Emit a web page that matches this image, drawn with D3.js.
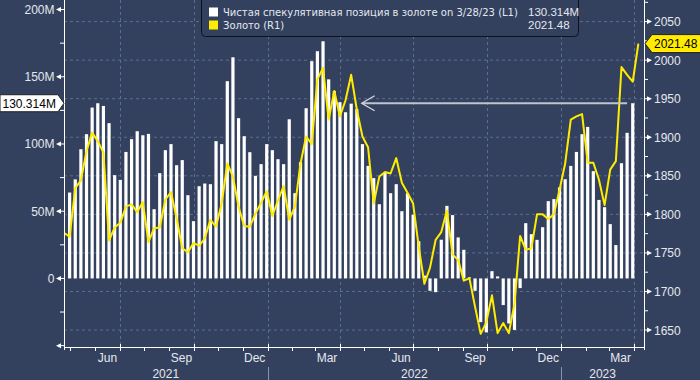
<!DOCTYPE html>
<html><head><meta charset="utf-8">
<script src="https://cdn.jsdelivr.net/npm/d3@7"></script>
<style>
html,body{margin:0;padding:0;background:#33415e;}
svg{display:block;}
text{font-family:"Liberation Sans",Arial,sans-serif;}
</style></head><body>
<svg id="chart" width="700" height="380"></svg>
<script>
// ---------- data ----------
const firstGoldWeek = "2021-04-23";   // weekly (Friday) points
const lastGoldWeek  = "2023-04-07";
// Net speculative position in gold, millions (L1), weekly Apr 30 2021 .. Mar 31 2023
const positionM = [63.9, 73.7, 96.1, 107.3, 127.1, 130.3, 128.3, 115.5, 76.8, 73.3,
  94.1, 103.6, 109.5, 106.5, 107.5, 51.5, 78.3, 95.4, 99.9, 84.2,
  88.0, 61.9, 42.6, 68.6, 70.6, 70.1, 102.1, 99.9, 146.7, 164.5,
  119.2, 105.8, 93.9, 76.3, 85.0, 99.9, 95.4, 88.7, 85.0, 118.4,
  63.4, 86.5, 126.6, 161.6, 169.0, 176.4, 148.1, 139.3, 131.1, 123.6,
  130.0, 125.9, 99.9, 83.7, 74.6, 55.2, 78.8, 63.4, 70.1, 50.0,
  63.4, 47.4, 27.7, 2.1, -9.2, -10.2, 28.8, 54.0, 47.1, 30.5,
  21.3, 0.8, -9.2, -32.5, -40.1, 5.4, 1.5, -19.8, -33.5, -38.3,
  -7.2, 41.1, 32.9, 28.7, 38.1, 57.5, 59.0, 67.7, 73.8, 83.7,
  94.1, 107.3, 112.7, 79.8, 58.4, 53.0, 40.4, 24.8, 85.7, 108.3, 130.314];
// Gold price (R1), weekly Apr 23 2021 .. Apr 7 2023
const goldPrice = [1776, 1771, 1834, 1844, 1882, 1906, 1895, 1880, 1766, 1783,
  1789, 1810, 1813, 1803, 1816, 1764, 1782, 1783, 1819, 1829,
  1795, 1756, 1751, 1763, 1759, 1769, 1793, 1784, 1814, 1866,
  1849, 1810, 1785, 1784, 1801, 1815, 1830, 1798, 1818, 1837,
  1793, 1810, 1866, 1901, 1891, 1975, 1990, 1923, 1960, 1927,
  1948, 1981, 1936, 1901, 1887, 1814, 1849, 1855, 1853, 1873,
  1841, 1828, 1814, 1758, 1710, 1731, 1767, 1777, 1805, 1748,
  1741, 1714, 1717, 1680, 1645, 1660, 1695, 1646, 1659, 1646,
  1684, 1772, 1754, 1756, 1800, 1800, 1794, 1800, 1832, 1866,
  1923, 1927, 1930, 1867, 1867, 1845, 1812, 1858, 1869, 1991,
  1981, 1972, 2021.48];
const leftTicksM = [-50, 0, 50, 100, 150, 200];
const leftMinorM = [-25, 25, 75, 125, 175];
const rightTicks = [1650, 1700, 1750, 1800, 1850, 1900, 1950, 2000, 2050];
const rightMinor = [1675, 1725, 1775, 1825, 1875, 1925, 1975, 2025, 2075];
const monthNames = ["Jan","Feb","Mar","Apr","May","Jun","Jul","Aug","Sep","Oct","Nov","Dec"];
const labelledMonths = [2, 5, 8, 11];
const years = ["2021", "2022", "2023"];
const legendNames = ["Чистая спекулятивная позиция в золоте on 3/28/23 (L1)", "Золото (R1)"];
const legendValues = ["130.314M", "2021.48"];
const arrowFrom = "2022-04-28", arrowTo = "2023-03-24";

// ---------- layout ----------
const W = 700, H = 380;
const L = 64, R = 644, T = 0, B = 347;
const bg = "#33415e", grid = "#5b6e90", txt = "#e4e8ef", gold = "#ffec00";
const parse = d3.utcParse("%Y-%m-%d");

const goldDates = d3.utcFriday.range(parse(firstGoldWeek), d3.utcDay.offset(parse(lastGoldWeek), 1));
const barDates = goldDates.slice(1, 1 + positionM.length);

const x = d3.scaleUtc().domain([parse(firstGoldWeek), parse("2023-04-14")]).range([L, R]);
const yL = d3.scaleLinear().domain([-51, 207.1]).range([B, T]);
const yR = d3.scaleLinear().domain([1628, 2078]).range([B, T]);

const svg = d3.select("#chart");
svg.append("rect").attr("width", W).attr("height", H).attr("fill", bg);
svg.append("defs").append("clipPath").attr("id", "plot")
  .append("rect").attr("x", L).attr("y", T).attr("width", R - L).attr("height", B - T);

// grid
const quarters = d3.utcMonth.every(3).range(x.domain()[0], x.domain()[1]);
svg.append("g").selectAll("line").data(rightTicks).join("line")
  .attr("x1", L).attr("x2", R).attr("y1", d => yR(d)).attr("y2", d => yR(d))
  .attr("stroke", grid).attr("stroke-width", 1).attr("stroke-dasharray", "3,3");
svg.append("g").selectAll("line").data(quarters).join("line")
  .attr("x1", d => Math.round(x(d)) + 0.5).attr("x2", d => Math.round(x(d)) + 0.5)
  .attr("y1", T).attr("y2", B)
  .attr("stroke", grid).attr("stroke-width", 1).attr("stroke-dasharray", "3,3");

// bars
const bw = 3.2;
svg.append("g").attr("clip-path", "url(#plot)").selectAll("rect").data(positionM).join("rect")
  .attr("x", (d, i) => x(barDates[i]) - bw / 2)
  .attr("width", bw)
  .attr("y", d => Math.min(yL(d), yL(0)))
  .attr("height", d => Math.abs(yL(d) - yL(0)))
  .attr("fill", "#ffffff");

// gold line
svg.append("path").attr("clip-path", "url(#plot)")
  .datum(goldPrice)
  .attr("d", d3.line().x((d, i) => x(goldDates[i])).y(d => yR(d)))
  .attr("fill", "none").attr("stroke", gold).attr("stroke-width", 2).attr("stroke-linejoin", "round");

// arrow annotation at last position value
const ay = yL(positionM[positionM.length - 1]);
const ax0 = x(parse(arrowFrom)), ax1 = x(parse(arrowTo));
svg.append("line").attr("x1", ax0 + 1).attr("x2", ax1).attr("y1", ay).attr("y2", ay)
  .attr("stroke", "#bfc5cf").attr("stroke-width", 1.8);
svg.append("path").attr("d", `M${ax0 + 13},${ay - 7.5}L${ax0},${ay}L${ax0 + 13},${ay + 7.5}`)
  .attr("fill", "none").attr("stroke", "#d6dae1").attr("stroke-width", 1.2);

// frame
svg.append("line").attr("x1", L + 0.5).attr("x2", L + 0.5).attr("y1", T).attr("y2", B + 3).attr("stroke", "#fff").attr("stroke-width", 1);
svg.append("line").attr("x1", R + 0.5).attr("x2", R + 0.5).attr("y1", T).attr("y2", B + 3).attr("stroke", "#fff").attr("stroke-width", 1);
svg.append("line").attr("x1", L).attr("x2", R + 1).attr("y1", B + 0.5).attr("y2", B + 0.5).attr("stroke", "#fff").attr("stroke-width", 1);

// left axis
const gl = svg.append("g");
leftTicksM.forEach(v => {
  const yy = yL(v);
  gl.append("path").attr("d", `M${L - 8},${yy}L${L - 3},${yy - 2.5}L${L - 3},${yy + 2.5}Z`).attr("fill", "#fff");
  gl.append("line").attr("x1", L - 3).attr("x2", L).attr("y1", yy).attr("y2", yy).attr("stroke", "#fff");
  if (v > -50) gl.append("text").attr("x", L - 9.5).attr("y", yy + 4.5).attr("text-anchor", "end")
    .attr("fill", txt).attr("font-size", 12).text(v === 0 ? "0" : v + "M");
});
leftMinorM.forEach(v => {
  gl.append("line").attr("x1", L - 4).attr("x2", L).attr("y1", yL(v)).attr("y2", yL(v)).attr("stroke", "#fff");
});

// right axis
const gr = svg.append("g");
rightTicks.forEach(v => {
  const yy = yR(v);
  gr.append("line").attr("x1", R).attr("x2", R + 3).attr("y1", yy).attr("y2", yy).attr("stroke", "#fff");
  gr.append("path").attr("d", `M${R + 3},${yy - 2.5}L${R + 8},${yy}L${R + 3},${yy + 2.5}Z`).attr("fill", "#fff");
  gr.append("text").attr("x", R + 10).attr("y", yy + 4.5).attr("fill", txt).attr("font-size", 12).text(v);
});
rightMinor.forEach(v => {
  gr.append("line").attr("x1", R).attr("x2", R + 4).attr("y1", yR(v)).attr("y2", yR(v)).attr("stroke", "#fff");
});

// bottom axis
const gb = svg.append("g");
const months = d3.utcMonth.range(x.domain()[0], x.domain()[1]);
months.forEach(m => {
  const xx = Math.round(x(m)) + 0.5;
  const q = m.getUTCMonth() % 3 === 0;
  gb.append("line").attr("x1", xx).attr("x2", xx).attr("y1", q ? B - 3 : B).attr("y2", B + 4).attr("stroke", "#fff");
  const mm = m.getUTCMonth();
  if (labelledMonths.includes(mm)) {
    gb.append("text").attr("x", x(d3.utcDay.offset(m, 15))).attr("y", 361.5).attr("text-anchor", "middle")
      .attr("fill", txt).attr("font-size", 12).text(monthNames[mm]);
  }
});
const yearStarts = d3.utcYear.range(x.domain()[0], x.domain()[1]);
const yearEdges = [L, ...yearStarts.map(d => x(d)), R];
years.forEach((yv, i) => {
  gb.append("text").attr("x", (yearEdges[i] + yearEdges[i + 1]) / 2).attr("y", 378)
    .attr("text-anchor", "middle").attr("fill", txt).attr("font-size", 12).text(yv);
});
yearStarts.forEach(d => {
  const xx = Math.round(x(d)) + 0.5;
  gb.append("line").attr("x1", xx).attr("x2", xx).attr("y1", 367).attr("y2", H).attr("stroke", "#8c95a8");
});

// legend
const lg = svg.append("g");
lg.append("rect").attr("x", 201.5).attr("y", -5).attr("width", 377).attr("height", 41.5).attr("rx", 4)
  .attr("fill", bg).attr("stroke", "#10131c").attr("stroke-width", 1);
const legendColors = ["#ffffff", gold];
legendNames.forEach((n, i) => {
  const by = 7.5 + i * 13;
  lg.append("rect").attr("x", 209).attr("y", by).attr("width", 9).attr("height", 9).attr("fill", legendColors[i]);
  lg.append("text").attr("x", 223).attr("y", by + 8.5).attr("fill", txt).attr("font-size", 10)
    .style("font-family", "'DejaVu Sans',sans-serif").text(n);
  lg.append("text").attr("x", 528).attr("y", by + 8.5).attr("fill", txt).attr("font-size", 11.5)
    .text(legendValues[i]);
});

// last-value tags
const ly = yL(positionM[positionM.length - 1]);
svg.append("path").attr("d", `M0,${ly - 8.5}L${L - 6},${ly - 8.5}L${L},${ly}L${L - 6},${ly + 8.5}L0,${ly + 8.5}Z`)
  .attr("fill", "#ffffff").attr("stroke", "#222").attr("stroke-width", 1);
svg.append("text").attr("x", 2.5).attr("y", ly + 4.5).attr("fill", "#000").attr("font-size", 12).text(legendValues[0]);

const ry = yR(goldPrice[goldPrice.length - 1]);
svg.append("path").attr("d", `M${R + 1},${ry}L${R + 8},${ry - 9}L${W + 2},${ry - 9}L${W + 2},${ry + 9}L${R + 8},${ry + 9}Z`)
  .attr("fill", gold).attr("stroke", "#222").attr("stroke-width", 1);
svg.append("text").attr("x", R + 10).attr("y", ry + 4.5).attr("fill", "#000").attr("font-size", 12).text(legendValues[1]);
</script>
</body></html>
